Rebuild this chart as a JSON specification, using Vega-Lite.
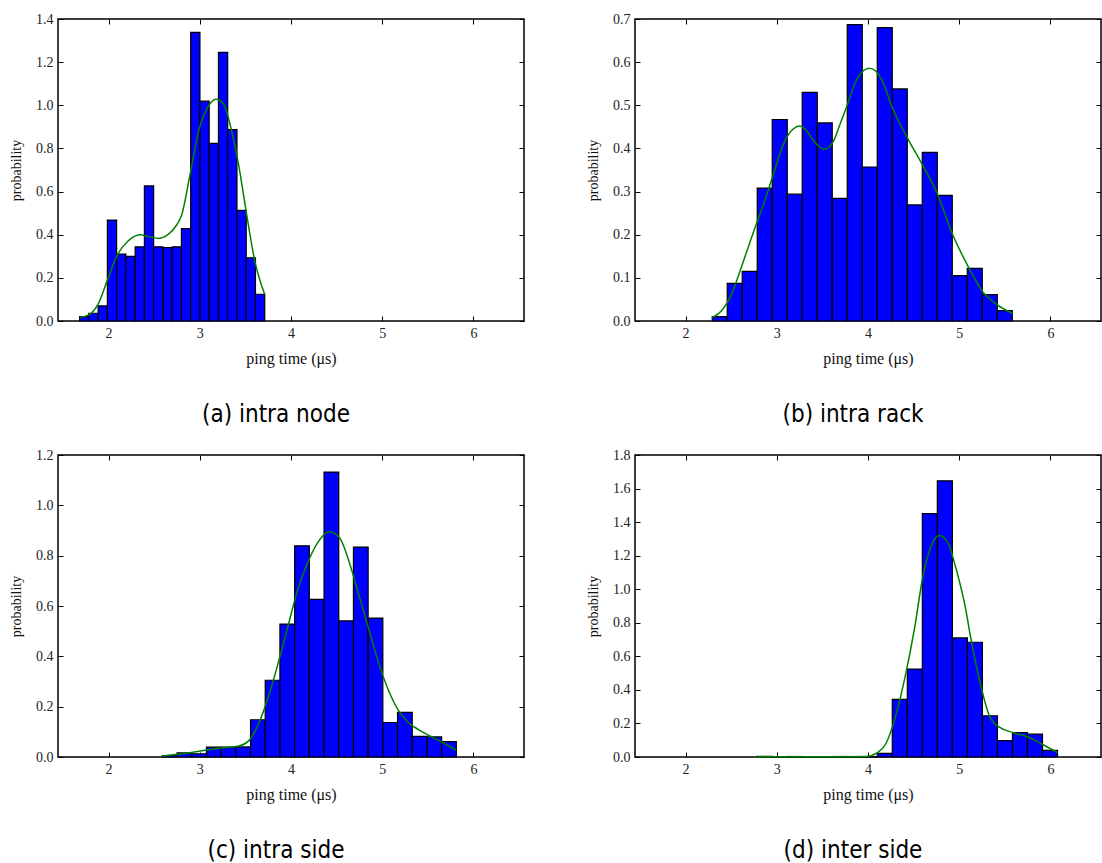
{
  "$schema": "https://vega.github.io/schema/vega-lite/v6.json",
  "padding": {"left": 8, "top": 11, "right": 0, "bottom": 0},
  "background": "white",
  "datasets": {
    "bars": [
      {"panel": "a", "x0": 1.682, "x1": 1.7835, "p": 0.02},
      {"panel": "a", "x0": 1.7835, "x1": 1.885, "p": 0.036},
      {"panel": "a", "x0": 1.885, "x1": 1.9865, "p": 0.07},
      {"panel": "a", "x0": 1.9865, "x1": 2.088, "p": 0.468},
      {"panel": "a", "x0": 2.088, "x1": 2.1895, "p": 0.31},
      {"panel": "a", "x0": 2.1895, "x1": 2.291, "p": 0.3},
      {"panel": "a", "x0": 2.291, "x1": 2.3925, "p": 0.344},
      {"panel": "a", "x0": 2.3925, "x1": 2.494, "p": 0.626},
      {"panel": "a", "x0": 2.494, "x1": 2.5955, "p": 0.344},
      {"panel": "a", "x0": 2.5955, "x1": 2.697, "p": 0.34},
      {"panel": "a", "x0": 2.697, "x1": 2.7985, "p": 0.344},
      {"panel": "a", "x0": 2.7985, "x1": 2.9, "p": 0.428},
      {"panel": "a", "x0": 2.9, "x1": 3.0015, "p": 1.338},
      {"panel": "a", "x0": 3.0015, "x1": 3.103, "p": 1.019},
      {"panel": "a", "x0": 3.103, "x1": 3.2045, "p": 0.823},
      {"panel": "a", "x0": 3.2045, "x1": 3.306, "p": 1.245},
      {"panel": "a", "x0": 3.306, "x1": 3.4075, "p": 0.887},
      {"panel": "a", "x0": 3.4075, "x1": 3.509, "p": 0.513},
      {"panel": "a", "x0": 3.509, "x1": 3.6105, "p": 0.293},
      {"panel": "a", "x0": 3.6105, "x1": 3.712, "p": 0.124},
      {"panel": "b", "x0": 2.292, "x1": 2.4565, "p": 0.01},
      {"panel": "b", "x0": 2.4565, "x1": 2.621, "p": 0.087},
      {"panel": "b", "x0": 2.621, "x1": 2.7855, "p": 0.115},
      {"panel": "b", "x0": 2.7855, "x1": 2.95, "p": 0.308},
      {"panel": "b", "x0": 2.95, "x1": 3.1145, "p": 0.467},
      {"panel": "b", "x0": 3.1145, "x1": 3.279, "p": 0.294},
      {"panel": "b", "x0": 3.279, "x1": 3.4435, "p": 0.53},
      {"panel": "b", "x0": 3.4435, "x1": 3.608, "p": 0.459},
      {"panel": "b", "x0": 3.608, "x1": 3.7725, "p": 0.284},
      {"panel": "b", "x0": 3.7725, "x1": 3.937, "p": 0.687},
      {"panel": "b", "x0": 3.937, "x1": 4.1015, "p": 0.357},
      {"panel": "b", "x0": 4.1015, "x1": 4.266, "p": 0.68},
      {"panel": "b", "x0": 4.266, "x1": 4.4305, "p": 0.538},
      {"panel": "b", "x0": 4.4305, "x1": 4.595, "p": 0.269},
      {"panel": "b", "x0": 4.595, "x1": 4.7595, "p": 0.391},
      {"panel": "b", "x0": 4.7595, "x1": 4.924, "p": 0.291},
      {"panel": "b", "x0": 4.924, "x1": 5.0885, "p": 0.105},
      {"panel": "b", "x0": 5.0885, "x1": 5.253, "p": 0.122},
      {"panel": "b", "x0": 5.253, "x1": 5.4175, "p": 0.061},
      {"panel": "b", "x0": 5.4175, "x1": 5.582, "p": 0.024},
      {"panel": "c", "x0": 2.589, "x1": 2.7502, "p": 0.006},
      {"panel": "c", "x0": 2.7502, "x1": 2.9114, "p": 0.016},
      {"panel": "c", "x0": 2.9114, "x1": 3.0726, "p": 0.013},
      {"panel": "c", "x0": 3.0726, "x1": 3.2338, "p": 0.039},
      {"panel": "c", "x0": 3.2338, "x1": 3.395, "p": 0.039},
      {"panel": "c", "x0": 3.395, "x1": 3.5562, "p": 0.04},
      {"panel": "c", "x0": 3.5562, "x1": 3.7174, "p": 0.148},
      {"panel": "c", "x0": 3.7174, "x1": 3.8786, "p": 0.305},
      {"panel": "c", "x0": 3.8786, "x1": 4.0398, "p": 0.528},
      {"panel": "c", "x0": 4.0398, "x1": 4.201, "p": 0.839},
      {"panel": "c", "x0": 4.201, "x1": 4.3622, "p": 0.626},
      {"panel": "c", "x0": 4.3622, "x1": 4.5234, "p": 1.132},
      {"panel": "c", "x0": 4.5234, "x1": 4.6846, "p": 0.541},
      {"panel": "c", "x0": 4.6846, "x1": 4.8458, "p": 0.834},
      {"panel": "c", "x0": 4.8458, "x1": 5.007, "p": 0.552},
      {"panel": "c", "x0": 5.007, "x1": 5.1682, "p": 0.137},
      {"panel": "c", "x0": 5.1682, "x1": 5.3294, "p": 0.177},
      {"panel": "c", "x0": 5.3294, "x1": 5.4906, "p": 0.082},
      {"panel": "c", "x0": 5.4906, "x1": 5.6518, "p": 0.08},
      {"panel": "c", "x0": 5.6518, "x1": 5.813, "p": 0.061},
      {"panel": "d", "x0": 2.784, "x1": 2.9487, "p": 0.004},
      {"panel": "d", "x0": 2.9487, "x1": 3.1134, "p": 0.002},
      {"panel": "d", "x0": 3.1134, "x1": 3.2781, "p": 0.003},
      {"panel": "d", "x0": 3.2781, "x1": 3.4428, "p": 0.002},
      {"panel": "d", "x0": 3.4428, "x1": 3.6075, "p": 0.002},
      {"panel": "d", "x0": 3.6075, "x1": 3.7722, "p": 0.003},
      {"panel": "d", "x0": 3.7722, "x1": 3.9369, "p": 0.002},
      {"panel": "d", "x0": 3.9369, "x1": 4.1016, "p": 0.002},
      {"panel": "d", "x0": 4.1016, "x1": 4.2663, "p": 0.022},
      {"panel": "d", "x0": 4.2663, "x1": 4.431, "p": 0.344},
      {"panel": "d", "x0": 4.431, "x1": 4.5957, "p": 0.524},
      {"panel": "d", "x0": 4.5957, "x1": 4.7604, "p": 1.45},
      {"panel": "d", "x0": 4.7604, "x1": 4.9251, "p": 1.646},
      {"panel": "d", "x0": 4.9251, "x1": 5.0898, "p": 0.71},
      {"panel": "d", "x0": 5.0898, "x1": 5.2545, "p": 0.684},
      {"panel": "d", "x0": 5.2545, "x1": 5.4192, "p": 0.246},
      {"panel": "d", "x0": 5.4192, "x1": 5.5839, "p": 0.098},
      {"panel": "d", "x0": 5.5839, "x1": 5.7486, "p": 0.146},
      {"panel": "d", "x0": 5.7486, "x1": 5.9133, "p": 0.136},
      {"panel": "d", "x0": 5.9133, "x1": 6.078, "p": 0.04}
    ],
    "kde": [
      {"panel": "a", "x": 1.682, "p": 0.016},
      {"panel": "a", "x": 1.782, "p": 0.028},
      {"panel": "a", "x": 1.889, "p": 0.082},
      {"panel": "a", "x": 1.996, "p": 0.2},
      {"panel": "a", "x": 2.096, "p": 0.307},
      {"panel": "a", "x": 2.211, "p": 0.37},
      {"panel": "a", "x": 2.343, "p": 0.4},
      {"panel": "a", "x": 2.45, "p": 0.39},
      {"panel": "a", "x": 2.55, "p": 0.383},
      {"panel": "a", "x": 2.65, "p": 0.4},
      {"panel": "a", "x": 2.746, "p": 0.445},
      {"panel": "a", "x": 2.8, "p": 0.49},
      {"panel": "a", "x": 2.9, "p": 0.695},
      {"panel": "a", "x": 2.996, "p": 0.896},
      {"panel": "a", "x": 3.086, "p": 0.99},
      {"panel": "a", "x": 3.175, "p": 1.028},
      {"panel": "a", "x": 3.264, "p": 1.005},
      {"panel": "a", "x": 3.336, "p": 0.904},
      {"panel": "a", "x": 3.425, "p": 0.726},
      {"panel": "a", "x": 3.514, "p": 0.493},
      {"panel": "a", "x": 3.604, "p": 0.276},
      {"panel": "a", "x": 3.711, "p": 0.124},
      {"panel": "b", "x": 2.292, "p": 0.008},
      {"panel": "b", "x": 2.4, "p": 0.025},
      {"panel": "b", "x": 2.5, "p": 0.06},
      {"panel": "b", "x": 2.62, "p": 0.13},
      {"panel": "b", "x": 2.75, "p": 0.21},
      {"panel": "b", "x": 2.87, "p": 0.28},
      {"panel": "b", "x": 2.95, "p": 0.332},
      {"panel": "b", "x": 3.087, "p": 0.417},
      {"panel": "b", "x": 3.18, "p": 0.445},
      {"panel": "b", "x": 3.247, "p": 0.452},
      {"panel": "b", "x": 3.33, "p": 0.44},
      {"panel": "b", "x": 3.407, "p": 0.417},
      {"panel": "b", "x": 3.521, "p": 0.398},
      {"panel": "b", "x": 3.621, "p": 0.417},
      {"panel": "b", "x": 3.7, "p": 0.46},
      {"panel": "b", "x": 3.763, "p": 0.495},
      {"panel": "b", "x": 3.87, "p": 0.557},
      {"panel": "b", "x": 3.95, "p": 0.58},
      {"panel": "b", "x": 4.013, "p": 0.586},
      {"panel": "b", "x": 4.08, "p": 0.58},
      {"panel": "b", "x": 4.155, "p": 0.557},
      {"panel": "b", "x": 4.266, "p": 0.495},
      {"panel": "b", "x": 4.43, "p": 0.425},
      {"panel": "b", "x": 4.594, "p": 0.363},
      {"panel": "b", "x": 4.761, "p": 0.295},
      {"panel": "b", "x": 4.921, "p": 0.204},
      {"panel": "b", "x": 5.089, "p": 0.13},
      {"panel": "b", "x": 5.257, "p": 0.068},
      {"panel": "b", "x": 5.421, "p": 0.037},
      {"panel": "b", "x": 5.585, "p": 0.018},
      {"panel": "c", "x": 2.589, "p": 0.004},
      {"panel": "c", "x": 2.893, "p": 0.017},
      {"panel": "c", "x": 3.25, "p": 0.037},
      {"panel": "c", "x": 3.429, "p": 0.044},
      {"panel": "c", "x": 3.536, "p": 0.064},
      {"panel": "c", "x": 3.643, "p": 0.13},
      {"panel": "c", "x": 3.75, "p": 0.237},
      {"panel": "c", "x": 3.857, "p": 0.37},
      {"panel": "c", "x": 3.964, "p": 0.516},
      {"panel": "c", "x": 4.071, "p": 0.662},
      {"panel": "c", "x": 4.179, "p": 0.769},
      {"panel": "c", "x": 4.286, "p": 0.848},
      {"panel": "c", "x": 4.418, "p": 0.895},
      {"panel": "c", "x": 4.536, "p": 0.869},
      {"panel": "c", "x": 4.643, "p": 0.769},
      {"panel": "c", "x": 4.75, "p": 0.636},
      {"panel": "c", "x": 4.857, "p": 0.503},
      {"panel": "c", "x": 4.964, "p": 0.37},
      {"panel": "c", "x": 5.071, "p": 0.263},
      {"panel": "c", "x": 5.179, "p": 0.184},
      {"panel": "c", "x": 5.286, "p": 0.137},
      {"panel": "c", "x": 5.393, "p": 0.11},
      {"panel": "c", "x": 5.5, "p": 0.088},
      {"panel": "c", "x": 5.643, "p": 0.061},
      {"panel": "c", "x": 5.814, "p": 0.027},
      {"panel": "d", "x": 2.784, "p": 0.002},
      {"panel": "d", "x": 3.5, "p": 0.002},
      {"panel": "d", "x": 3.979, "p": 0.003},
      {"panel": "d", "x": 4.103, "p": 0.026},
      {"panel": "d", "x": 4.193, "p": 0.076},
      {"panel": "d", "x": 4.299, "p": 0.236},
      {"panel": "d", "x": 4.406, "p": 0.476},
      {"panel": "d", "x": 4.513, "p": 0.776},
      {"panel": "d", "x": 4.602, "p": 1.076},
      {"panel": "d", "x": 4.692, "p": 1.256},
      {"panel": "d", "x": 4.78, "p": 1.32},
      {"panel": "d", "x": 4.888, "p": 1.266},
      {"panel": "d", "x": 4.928, "p": 1.196},
      {"panel": "d", "x": 4.977, "p": 1.1},
      {"panel": "d", "x": 5.066, "p": 0.896},
      {"panel": "d", "x": 5.125, "p": 0.716},
      {"panel": "d", "x": 5.232, "p": 0.436},
      {"panel": "d", "x": 5.338, "p": 0.236},
      {"panel": "d", "x": 5.445, "p": 0.176},
      {"panel": "d", "x": 5.588, "p": 0.146},
      {"panel": "d", "x": 5.766, "p": 0.116},
      {"panel": "d", "x": 5.909, "p": 0.076},
      {"panel": "d", "x": 6.08, "p": 0.026}
    ]
  },
  "vconcat": [
    {
      "hconcat": [
        {
          "width": 466, "height": 302,
          "title": {"text": "(a) intra node"},
          "layer": [
            {
              "data": {"name": "bars"},
              "transform": [{"filter": "datum.panel == 'a'"}],
              "mark": {"type": "bar", "fill": "#0000ff", "stroke": "black", "strokeWidth": 1.2, "orient": "vertical"},
              "encoding": {
                "x": {"field": "x0", "type": "quantitative", "scale": {"domain": [1.5, 6.5], "nice": false, "zero": false}, "axis": {"values": [2, 3, 4, 5, 6], "format": "d", "title": "ping time (μs)"}},
                "x2": {"field": "x1"},
                "y": {"field": "p", "type": "quantitative", "scale": {"domain": [0, 1.4], "nice": false}, "axis": {"values": [0, 0.2, 0.4, 0.6, 0.8, 1.0, 1.2, 1.4], "format": ".1f", "title": "probability"}},
                "y2": {"datum": 0}
              }
            },
            {
              "data": {"name": "kde"},
              "transform": [{"filter": "datum.panel == 'a'"}],
              "mark": {"type": "line", "color": "#008000", "strokeWidth": 1.5, "interpolate": "monotone"},
              "encoding": {
                "x": {"field": "x", "type": "quantitative", "axis": {"orient": "top", "labels": false, "title": null, "values": [2, 3, 4, 5, 6]}},
                "y": {"field": "p", "type": "quantitative", "axis": {"orient": "right", "labels": false, "title": null, "values": [0, 0.2, 0.4, 0.6, 0.8, 1.0, 1.2, 1.4]}}
              }
            }
          ],
          "resolve": {"axis": {"x": "independent", "y": "independent"}}
        },
        {
          "width": 466, "height": 302,
          "title": {"text": "(b) intra rack"},
          "layer": [
            {
              "data": {"name": "bars"},
              "transform": [{"filter": "datum.panel == 'b'"}],
              "mark": {"type": "bar", "fill": "#0000ff", "stroke": "black", "strokeWidth": 1.2, "orient": "vertical"},
              "encoding": {
                "x": {"field": "x0", "type": "quantitative", "scale": {"domain": [1.5, 6.5], "nice": false, "zero": false}, "axis": {"values": [2, 3, 4, 5, 6], "format": "d", "title": "ping time (μs)"}},
                "x2": {"field": "x1"},
                "y": {"field": "p", "type": "quantitative", "scale": {"domain": [0, 0.7], "nice": false}, "axis": {"values": [0, 0.1, 0.2, 0.3, 0.4, 0.5, 0.6, 0.7], "format": ".1f", "title": "probability"}},
                "y2": {"datum": 0}
              }
            },
            {
              "data": {"name": "kde"},
              "transform": [{"filter": "datum.panel == 'b'"}],
              "mark": {"type": "line", "color": "#008000", "strokeWidth": 1.5, "interpolate": "monotone"},
              "encoding": {
                "x": {"field": "x", "type": "quantitative", "axis": {"orient": "top", "labels": false, "title": null, "values": [2, 3, 4, 5, 6]}},
                "y": {"field": "p", "type": "quantitative", "axis": {"orient": "right", "labels": false, "title": null, "values": [0, 0.1, 0.2, 0.3, 0.4, 0.5, 0.6, 0.7]}}
              }
            }
          ],
          "resolve": {"axis": {"x": "independent", "y": "independent"}}
        }
      ],
      "spacing": 59
    },
    {
      "hconcat": [
        {
          "width": 466, "height": 302,
          "title": {"text": "(c) intra side"},
          "layer": [
            {
              "data": {"name": "bars"},
              "transform": [{"filter": "datum.panel == 'c'"}],
              "mark": {"type": "bar", "fill": "#0000ff", "stroke": "black", "strokeWidth": 1.2, "orient": "vertical"},
              "encoding": {
                "x": {"field": "x0", "type": "quantitative", "scale": {"domain": [1.5, 6.5], "nice": false, "zero": false}, "axis": {"values": [2, 3, 4, 5, 6], "format": "d", "title": "ping time (μs)"}},
                "x2": {"field": "x1"},
                "y": {"field": "p", "type": "quantitative", "scale": {"domain": [0, 1.2], "nice": false}, "axis": {"values": [0, 0.2, 0.4, 0.6, 0.8, 1.0, 1.2], "format": ".1f", "title": "probability"}},
                "y2": {"datum": 0}
              }
            },
            {
              "data": {"name": "kde"},
              "transform": [{"filter": "datum.panel == 'c'"}],
              "mark": {"type": "line", "color": "#008000", "strokeWidth": 1.5, "interpolate": "monotone"},
              "encoding": {
                "x": {"field": "x", "type": "quantitative", "axis": {"orient": "top", "labels": false, "title": null, "values": [2, 3, 4, 5, 6]}},
                "y": {"field": "p", "type": "quantitative", "axis": {"orient": "right", "labels": false, "title": null, "values": [0, 0.2, 0.4, 0.6, 0.8, 1.0, 1.2]}}
              }
            }
          ],
          "resolve": {"axis": {"x": "independent", "y": "independent"}}
        },
        {
          "width": 466, "height": 302,
          "title": {"text": "(d) inter side"},
          "layer": [
            {
              "data": {"name": "bars"},
              "transform": [{"filter": "datum.panel == 'd'"}],
              "mark": {"type": "bar", "fill": "#0000ff", "stroke": "black", "strokeWidth": 1.2, "orient": "vertical"},
              "encoding": {
                "x": {"field": "x0", "type": "quantitative", "scale": {"domain": [1.5, 6.5], "nice": false, "zero": false}, "axis": {"values": [2, 3, 4, 5, 6], "format": "d", "title": "ping time (μs)"}},
                "x2": {"field": "x1"},
                "y": {"field": "p", "type": "quantitative", "scale": {"domain": [0, 1.8], "nice": false}, "axis": {"values": [0, 0.2, 0.4, 0.6, 0.8, 1.0, 1.2, 1.4, 1.6, 1.8], "format": ".1f", "title": "probability"}},
                "y2": {"datum": 0}
              }
            },
            {
              "data": {"name": "kde"},
              "transform": [{"filter": "datum.panel == 'd'"}],
              "mark": {"type": "line", "color": "#008000", "strokeWidth": 1.5, "interpolate": "monotone"},
              "encoding": {
                "x": {"field": "x", "type": "quantitative", "axis": {"orient": "top", "labels": false, "title": null, "values": [2, 3, 4, 5, 6]}},
                "y": {"field": "p", "type": "quantitative", "axis": {"orient": "right", "labels": false, "title": null, "values": [0, 0.2, 0.4, 0.6, 0.8, 1.0, 1.2, 1.4, 1.6, 1.8]}}
              }
            }
          ],
          "resolve": {"axis": {"x": "independent", "y": "independent"}}
        }
      ],
      "spacing": 59
    }
  ],
  "spacing": 19,
  "config": {
    "view": {"stroke": "black", "strokeWidth": 1.5},
    "axis": {
      "domain": false, "grid": false,
      "tickColor": "black", "tickSize": -5, "tickWidth": 1,
      "labelFont": "Liberation Serif", "labelFontSize": 14, "labelColor": "#222222", "labelPadding": 10,
      "titleFont": "Liberation Serif", "titleFontWeight": "normal", "titleColor": "#111111"
    },
    "axisX": {"titleFontSize": 16, "titlePadding": 10},
    "axisY": {"titleFontSize": 14, "titlePadding": 12},
    "title": {"font": "DejaVu Sans Condensed, DejaVu Sans", "fontSize": 24, "fontWeight": "normal", "orient": "bottom", "offset": 37, "dx": -15, "color": "black"}
  }
}
